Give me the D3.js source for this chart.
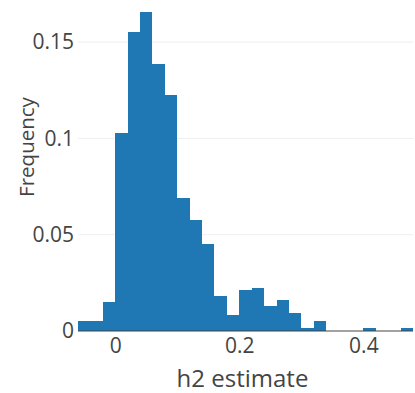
<!DOCTYPE html>
<html>
<head>
<meta charset="utf-8">
<script src="https://cdn.jsdelivr.net/npm/d3@7"></script>
<style>
  html, body { margin: 0; padding: 0; background: #fff; }
  svg { display: block; }
  text { font-family: "Open Sans", verdana, arial, sans-serif; fill: #444; }
</style>
</head>
<body>
<svg id="chart" width="415" height="393"></svg>
<script>
// ---- data ----
const binStarts = [-0.06, -0.04, -0.02, 0.00, 0.02, 0.04, 0.06, 0.08, 0.10, 0.12,
                   0.14, 0.16, 0.18, 0.20, 0.22, 0.24, 0.26, 0.28, 0.30, 0.32,
                   0.34, 0.36, 0.38, 0.40, 0.42, 0.44, 0.46];
const frequencies = [0.0052, 0.0052, 0.0148, 0.1030, 0.1552, 0.1656, 0.1385, 0.1224, 0.0690, 0.0578,
                     0.0452, 0.0184, 0.0082, 0.0213, 0.0222, 0.0130, 0.0161, 0.0096, 0.0018, 0.0052,
                     0, 0, 0, 0.0016, 0, 0, 0.0016];
const binWidth = 0.02;
const xTicks = [0, 0.2, 0.4];
const yTicks = [0, 0.05, 0.1, 0.15];
const xTitle = "h2 estimate";
const yTitle = "Frequency";

const bins = binStarts.map((s, i) => ({x0: s, x1: s + binWidth, f: frequencies[i]}));

// ---- layout ----
const svg = d3.select("#chart");
const plot = {left: 78, right: 413, top: 3.6, bottom: 331};

const x = d3.scaleLinear().domain([-0.06, 0.48]).range([plot.left, plot.right]);
const y = d3.scaleLinear().domain([0, 0.17]).range([plot.bottom, plot.top]);

// gridlines
svg.append("g")
  .selectAll("line")
  .data(yTicks.filter(d => d !== 0))
  .join("line")
  .attr("x1", plot.left).attr("x2", plot.right)
  .attr("y1", d => y(d)).attr("y2", d => y(d))
  .attr("stroke", "#eee").attr("stroke-width", 1);

// bars
svg.append("g")
  .selectAll("rect")
  .data(bins.filter(b => b.f > 0))
  .join("rect")
  .attr("x", d => x(d.x0))
  .attr("width", d => x(d.x1) - x(d.x0))
  .attr("y", d => y(d.f))
  .attr("height", d => y(0) - y(d.f))
  .attr("fill", "#1f77b4")
  .attr("shape-rendering", "crispEdges");

// zero line
svg.append("line")
  .attr("x1", plot.left).attr("x2", plot.right)
  .attr("y1", y(0)).attr("y2", y(0))
  .attr("stroke", "#444").attr("stroke-width", 1);

// y axis
const yAxis = svg.append("g")
  .attr("transform", `translate(${plot.left - 4},0)`)
  .call(d3.axisLeft(y).tickValues(yTicks).tickSize(0).tickPadding(0).tickFormat(d3.format("~g")));
yAxis.select(".domain").remove();
yAxis.selectAll("text").attr("font-size", 21).attr("fill", "#444")
  .attr("font-family", '"Open Sans", verdana, arial, sans-serif');

// x axis
const xAxis = svg.append("g")
  .attr("transform", `translate(0,${plot.bottom})`)
  .call(d3.axisBottom(x).tickValues(xTicks).tickSize(0).tickPadding(7).tickFormat(d3.format("~g")));
xAxis.select(".domain").remove();
xAxis.selectAll("text").attr("font-size", 21).attr("fill", "#444")
  .attr("font-family", '"Open Sans", verdana, arial, sans-serif');

// axis titles
svg.append("text")
  .attr("x", 242.5).attr("y", 387)
  .attr("text-anchor", "middle")
  .attr("font-size", 24)
  .text(xTitle);

svg.append("text")
  .attr("transform", "translate(34,147) rotate(-90)")
  .attr("text-anchor", "middle")
  .attr("font-size", 20.5)
  .text(yTitle);
</script>
</body>
</html>
